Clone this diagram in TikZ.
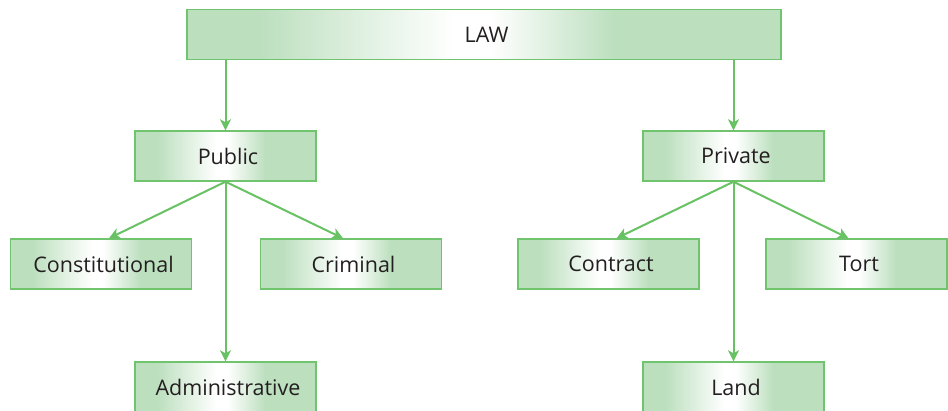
\documentclass[tikz,border=0pt]{standalone}
\usepackage{fontspec}
\setmainfont{Open Sans}
\usetikzlibrary{arrows.meta}
\definecolor{boxfill}{RGB}{188,223,190}
\definecolor{boxline}{RGB}{112,196,110}
\definecolor{arrowc}{RGB}{104,194,100}
\definecolor{txt}{RGB}{35,31,32}
\pgfdeclarehorizontalshading{boxshade}{100bp}{color(0bp)=(boxfill); color(25bp)=(boxfill); color(31bp)=(boxfill); color(47.5bp)=(white); color(50.5bp)=(white); color(61bp)=(boxfill); color(75bp)=(boxfill); color(100bp)=(boxfill)}
\tikzset{
  lawbox/.style={draw=boxline, line width=1.4pt, shade, shading=boxshade, minimum height=50pt, inner sep=0pt, text=txt, font=\fontsize{21.5}{24}\selectfont, execute at begin node={\hspace{5pt}}},
  catbox/.style={lawbox, minimum width=181pt},
  arr/.style={draw=arrowc, line width=2pt, -{Stealth[length=11pt,width=11pt,inset=3pt]}}
}
\begin{document}
\begin{tikzpicture}[x=1pt,y=-1pt]
\useasboundingbox (0,0) rectangle (948,410);
\clip (0,0) rectangle (948,410);
\node[lawbox, minimum width=594pt] (law) at (484,34.5) {LAW};
\node[catbox] (public) at (225.5,156) {Public};
\node[catbox] (private) at (733.5,156) {Private};
\node[catbox] (const) at (101,264) {Constitutional};
\node[catbox] (crim) at (351,264) {Criminal};
\node[catbox] (contract) at (608.5,264) {Contract};
\node[catbox] (tort) at (856.5,264) {Tort};
\node[catbox] (admin) at (225.5,387) {Administrative};
\node[catbox] (land) at (733.5,387) {Land};
\draw[arr] (law.south -| public.north) -- (public.north);
\draw[arr] (law.south -| private.north) -- (private.north);
\draw[arr] (public.south) -- ([xshift=8pt]const.north);
\draw[arr] (public.south) -- ([xshift=-8pt]crim.north);
\draw[arr] (public.south) -- (admin.north);
\draw[arr] (private.south) -- ([xshift=8pt]contract.north);
\draw[arr] (private.south) -- ([xshift=-8pt]tort.north);
\draw[arr] (private.south) -- (land.north);
\end{tikzpicture}
\end{document}
